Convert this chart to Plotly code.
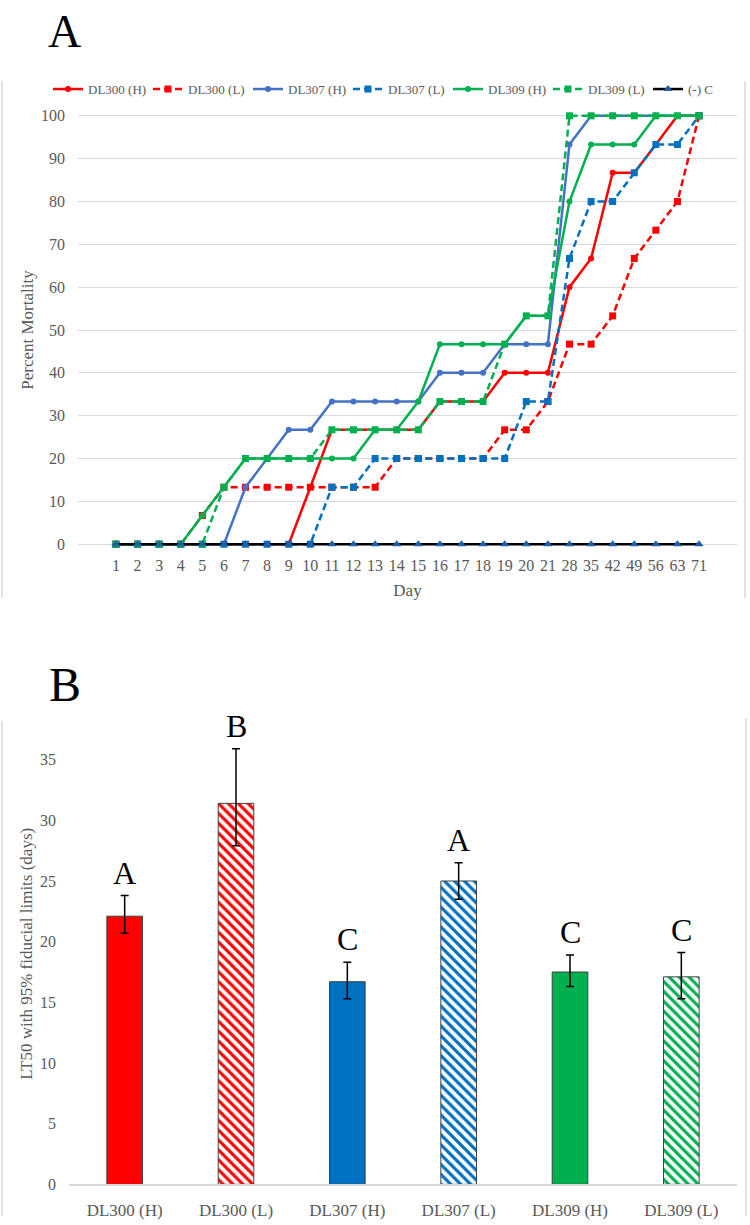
import plotly.graph_objects as go

# ---------------- Panel A data ----------------
days = ["1", "2", "3", "4", "5", "6", "7", "8", "9", "10", "11", "12", "13", "14",
        "15", "16", "17", "18", "19", "20", "21", "28", "35", "42", "49", "56", "63", "71"]

dl300_h = [0, 0, 0, 0, 0, 0, 0, 0, 0, 13.3, 26.7, 26.7, 26.7, 26.7, 26.7, 33.3, 33.3, 33.3,
           40, 40, 40, 60, 66.7, 86.7, 86.7, 93.3, 100, 100]
dl300_l = [0, 0, 0, 0, 6.7, 13.3, 13.3, 13.3, 13.3, 13.3, 13.3, 13.3, 13.3, 20, 20, 20, 20, 20,
           26.7, 26.7, 33.3, 46.7, 46.7, 53.3, 66.7, 73.3, 80, 100]
dl307_h = [0, 0, 0, 0, 0, 0, 13.3, 20, 26.7, 26.7, 33.3, 33.3, 33.3, 33.3, 33.3, 40, 40, 40,
           46.7, 46.7, 46.7, 93.3, 100, 100, 100, 100, 100, 100]
dl307_l = [0, 0, 0, 0, 0, 0, 0, 0, 0, 0, 13.3, 13.3, 20, 20, 20, 20, 20, 20,
           20, 33.3, 33.3, 66.7, 80, 80, 86.7, 93.3, 93.3, 100]
dl309_h = [0, 0, 0, 0, 6.7, 13.3, 20, 20, 20, 20, 20, 20, 26.7, 26.7, 33.3, 46.7, 46.7, 46.7,
           46.7, 53.3, 53.3, 80, 93.3, 93.3, 93.3, 100, 100, 100]
dl309_l = [0, 0, 0, 0, 0, 13.3, 20, 20, 20, 20, 26.7, 26.7, 26.7, 26.7, 26.7, 33.3, 33.3, 33.3,
           46.7, 53.3, 53.3, 100, 100, 100, 100, 100, 100, 100]
control = [0, 0, 0, 0, 0, 0, 0, 0, 0, 0, 0, 0, 0, 0, 0, 0, 0, 0,
           0, 0, 0, 0, 0, 0, 0, 0, 0, 0]

# ---------------- Panel B data ----------------
groups = ["DL300 (H)", "DL300 (L)", "DL307 (H)", "DL307 (L)", "DL309 (H)", "DL309 (L)"]
lt50 = [22.1, 31.4, 16.7, 25.0, 17.5, 17.1]
upper = [23.8, 35.9, 18.3, 26.5, 18.9, 19.1]
lower = [20.7, 27.9, 15.3, 23.5, 16.3, 15.3]
letters = ["A", "B", "C", "A", "C", "C"]
hatched = [False, True, False, True, False, True]

FONT = "Liberation Serif"
GREY = "#595959"
RED, BLUE, BLUE2, GREEN = "#FF0000", "#4472C4", "#0070C0", "#00B050"
W, H = 750, 1225


def px_x(p):
    return p / W


def px_y(p):
    return 1 - p / H


fig = go.Figure()

series = [
    ("DL300 (H)", dl300_h, RED, "solid", "circle", 6),
    ("DL300 (L)", dl300_l, RED, "7px,4px", "square", 7),
    ("DL307 (H)", dl307_h, BLUE, "solid", "circle", 6),
    ("DL307 (L)", dl307_l, BLUE2, "7px,4px", "square", 7),
    ("DL309 (H)", dl309_h, GREEN, "solid", "circle", 6),
    ("DL309 (L)", dl309_l, GREEN, "7px,4px", "square", 7),
    ("(-) C", control, "#000000", "solid", "triangle-up", 8),
]
for name, vals, color, dash, sym, size in series:
    mcol = "#1F5FA8" if name == "(-) C" else color
    fig.add_trace(go.Scatter(
        x=days, y=vals, name=name, mode="lines+markers",
        line=dict(color=color, width=2.5, dash=dash),
        marker=dict(symbol=sym, size=size, color=mcol, line=dict(width=0)),
        cliponaxis=False, xaxis="x", yaxis="y"))

bar_colors = [RED, RED, BLUE2, BLUE2, GREEN, GREEN]
for g, v, u, l, c, h in zip(groups, lt50, upper, lower, bar_colors, hatched):
    if h:
        marker = dict(color="white", line=dict(color="#404040", width=1),
                      pattern=dict(shape="\\", fgcolor=c, bgcolor="white",
                                   size=7, solidity=0.45, fillmode="replace"))
    else:
        marker = dict(color=c, line=dict(color="#404040", width=1))
    fig.add_trace(go.Bar(
        x=[g], y=[v], showlegend=False, xaxis="x2", yaxis="y2", marker=marker,
        error_y=dict(type="data", symmetric=False, array=[u - v], arrayminus=[v - l],
                     color="black", thickness=1.5, width=4),
    ))

annotations = []
for g, u, t in zip(groups, upper, letters):
    annotations.append(dict(x=g, y=u, xref="x2", yref="y2", text=t, showarrow=False,
                            yanchor="bottom", yshift=3,
                            font=dict(family=FONT, size=32, color="black")))
annotations.append(dict(x=px_x(64), y=1, xref="paper", yref="paper", text="A",
                        xanchor="center", yanchor="top",
                        showarrow=False, font=dict(family=FONT, size=46, color="black")))
annotations.append(dict(x=px_x(65), y=px_y(688), xref="paper", yref="paper", text="B",
                        xanchor="center", yanchor="middle",
                        showarrow=False, font=dict(family=FONT, size=48, color="black")))

frame = dict(type="line", xref="paper", yref="paper", line=dict(color="#d9d9d9", width=1.5))
shapes = [
    dict(frame, x0=px_x(2), x1=px_x(2), y0=px_y(78), y1=px_y(600)),
    dict(frame, x0=px_x(745), x1=px_x(745), y0=px_y(78), y1=px_y(600)),
    dict(frame, x0=px_x(2), x1=px_x(2), y0=px_y(725), y1=px_y(1225)),
    dict(frame, x0=px_x(746), x1=px_x(746), y0=px_y(722), y1=px_y(1225)),
]

# y scale of panel A: 0 -> 546 px, 100 -> 113 px ; pad 1 unit each side to avoid clipping lines
ppu = (546 - 113) / 100.0
tickfont = dict(family=FONT, size=16, color=GREY)
fig.update_layout(
    width=W, height=H, margin=dict(l=0, r=0, t=0, b=0),
    paper_bgcolor="white", plot_bgcolor="white",
    font=dict(family=FONT, color=GREY),
    showlegend=True, barmode="overlay",
    legend=dict(orientation="h", x=px_x(48), y=px_y(86), xanchor="left", yanchor="middle",
                font=dict(family=FONT, size=13, color=GREY), itemwidth=30,
                entrywidth=55, entrywidthmode="pixels",
                bgcolor="rgba(0,0,0,0)", tracegroupgap=0),
    xaxis=dict(domain=[px_x(78), px_x(737)], anchor="y", type="category",
               showgrid=False, showline=False, ticks="",
               tickfont=tickfont, ticklabelstandoff=6,
               title=dict(text="Day", font=dict(family=FONT, size=17, color=GREY), standoff=10)),
    yaxis=dict(domain=[px_y(546 + ppu), px_y(113 - ppu)], anchor="x", range=[-1, 101],
               tick0=0, dtick=10,
               showgrid=True, gridcolor="#d9d9d9", gridwidth=1, zeroline=False,
               ticks="", tickfont=tickfont, ticklabelstandoff=12,
               title=dict(text="Percent Mortality", font=dict(family=FONT, size=17, color=GREY),
                          standoff=3)),
    xaxis2=dict(domain=[px_x(69), px_x(737)], anchor="y2", type="category",
                showgrid=False, showline=True, linecolor="#d9d9d9", linewidth=1.5, ticks="",
                tickfont=dict(family=FONT, size=17, color=GREY), ticklabelstandoff=10),
    yaxis2=dict(domain=[px_y(1193), px_y(727)], anchor="x2", range=[0, 38],
                tickvals=[0, 5, 10, 15, 20, 25, 30, 35],
                showgrid=False, zeroline=False, showline=False, ticks="",
                tickfont=dict(family=FONT, size=16, color=GREY), ticklabelstandoff=12,
                title=dict(text="LT50 with 95% fiducial limits (days)",
                           font=dict(family=FONT, size=17, color=GREY), standoff=3)),
    bargap=0.68,
    annotations=annotations,
    shapes=shapes,
)

fig.write_html("out.html")
